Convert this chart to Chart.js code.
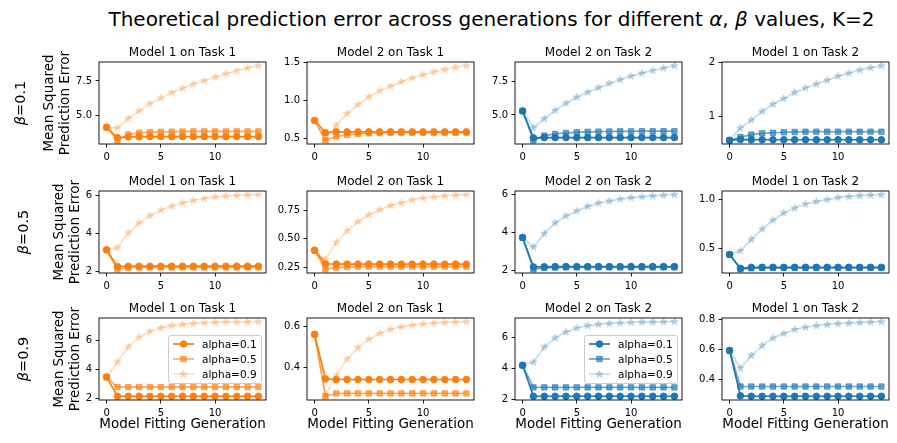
<!DOCTYPE html>
<html><head><meta charset="utf-8">
<script src="https://cdn.jsdelivr.net/npm/chart.js@4.4.1/dist/chart.umd.min.js"></script>
<style>
html,body{margin:0;padding:0;background:#fff;}
#fig{position:relative;width:897px;height:443px;overflow:hidden;font-family:'DejaVu Sans',sans-serif;color:#000;background:#fff;}
.abs{position:absolute;white-space:nowrap;}
canvas{position:absolute;}
.legend{position:absolute;background:rgba(255,255,255,0.8);border:1px solid #cccccc;border-radius:3px;padding:1px 4px 1px 4px;font-size:10.5px;white-space:nowrap;}
.legend .row{display:flex;align-items:center;height:15px;}
.legend svg{margin-right:8px;display:block;}
</style></head><body><div id="fig"></div>
<script>
// ---------------- DATA ----------------
const generations = [0,1,2,3,4,5,6,7,8,9,10,11,12,13,14];
const xTickLabels = ["0","5","10"];
const alphaLabels = ["alpha=0.1","alpha=0.5","alpha=0.9"];
const betaLabels = ["0.1","0.5","0.9"];
const panelTitles = ["Model 1 on Task 1","Model 2 on Task 1","Model 2 on Task 2","Model 1 on Task 2"];
const yAxisLabel = ["Mean Squared","Prediction Error"];
const xAxisLabel = "Model Fitting Generation";

// beta = 0.1
const b01_m1t1_a01 = [4.10,3.35,3.40,3.41,3.42,3.42,3.42,3.42,3.42,3.42,3.42,3.42,3.42,3.42,3.42];
const b01_m1t1_a05 = [4.10,3.15,3.58,3.70,3.75,3.77,3.78,3.79,3.80,3.80,3.80,3.80,3.80,3.80,3.80];
const b01_m1t1_a09 = [4.10,4.05,4.74,5.31,5.84,6.25,6.64,6.97,7.27,7.52,7.78,8.02,8.25,8.45,8.62];
const yTicks_b01_m1t1 = ["5.0","7.5"];

const b01_m2t1_a01 = [0.74,0.58,0.59,0.59,0.59,0.59,0.59,0.59,0.59,0.59,0.59,0.59,0.59,0.59,0.59];
const b01_m2t1_a05 = [0.74,0.48,0.53,0.55,0.565,0.572,0.577,0.58,0.58,0.58,0.58,0.58,0.58,0.58,0.58];
const b01_m2t1_a09 = [0.74,0.49,0.68,0.83,0.95,1.05,1.13,1.19,1.25,1.30,1.34,1.38,1.41,1.44,1.46];
const yTicks_b01_m2t1 = ["0.5","1.0","1.5"];

const b01_m2t2_a01 = [5.30,3.28,3.30,3.30,3.30,3.30,3.30,3.30,3.30,3.30,3.30,3.30,3.30,3.30,3.30];
const b01_m2t2_a05 = [5.30,3.10,3.45,3.58,3.65,3.70,3.73,3.75,3.76,3.77,3.77,3.78,3.78,3.78,3.78];
const b01_m2t2_a09 = [5.30,4.03,4.72,5.34,5.89,6.34,6.71,7.05,7.37,7.65,7.92,8.14,8.34,8.52,8.70];
const yTicks_b01_m2t2 = ["5.0","7.5"];

const b01_m1t2_a01 = [0.55,0.565,0.56,0.56,0.56,0.56,0.56,0.56,0.56,0.56,0.56,0.56,0.56,0.56,0.56];
const b01_m1t2_a05 = [0.55,0.61,0.655,0.68,0.69,0.70,0.705,0.71,0.71,0.71,0.71,0.71,0.71,0.71,0.71];
const b01_m1t2_a09 = [0.55,0.78,0.925,1.09,1.22,1.33,1.44,1.525,1.60,1.67,1.745,1.80,1.86,1.90,1.94];
const yTicks_b01_m1t2 = ["1","2"];

// beta = 0.5
const b05_m1t1_a01 = [3.14,2.26,2.28,2.28,2.28,2.28,2.28,2.28,2.28,2.28,2.28,2.28,2.28,2.28,2.28];
const b05_m1t1_a05 = [3.12,2.12,2.20,2.22,2.22,2.22,2.22,2.22,2.22,2.22,2.22,2.22,2.22,2.22,2.22];
const b05_m1t1_a09 = [3.14,3.25,4.02,4.54,4.93,5.21,5.42,5.60,5.72,5.82,5.90,5.95,5.98,6.00,6.02];
const yTicks_b05_m1t1 = ["2","4","6"];

const b05_m2t1_a01 = [0.40,0.282,0.28,0.28,0.28,0.28,0.28,0.28,0.28,0.28,0.28,0.28,0.28,0.28,0.28];
const b05_m2t1_a05 = [0.40,0.235,0.25,0.255,0.258,0.258,0.258,0.258,0.258,0.258,0.258,0.258,0.258,0.258,0.258];
const b05_m2t1_a09 = [0.40,0.32,0.47,0.57,0.65,0.71,0.755,0.79,0.815,0.84,0.855,0.865,0.875,0.88,0.885];
const yTicks_b05_m2t1 = ["0.25","0.50","0.75"];

const b05_m2t2_a01 = [3.74,2.20,2.21,2.22,2.22,2.22,2.22,2.22,2.22,2.22,2.22,2.22,2.22,2.22,2.22];
const b05_m2t2_a05 = [3.72,2.08,2.15,2.17,2.18,2.18,2.18,2.18,2.18,2.18,2.18,2.18,2.18,2.18,2.18];
const b05_m2t2_a09 = [3.74,3.23,3.95,4.50,4.86,5.12,5.36,5.53,5.64,5.74,5.81,5.86,5.91,5.94,5.97];
const yTicks_b05_m2t2 = ["2","4","6"];

const b05_m1t2_a01 = [0.44,0.30,0.31,0.31,0.31,0.31,0.31,0.31,0.31,0.31,0.31,0.31,0.31,0.31,0.31];
const b05_m1t2_a05 = [0.44,0.29,0.30,0.305,0.305,0.305,0.305,0.305,0.305,0.305,0.305,0.305,0.305,0.305,0.305];
const b05_m1t2_a09 = [0.44,0.477,0.595,0.70,0.79,0.864,0.914,0.955,0.98,1.00,1.02,1.03,1.04,1.045,1.05];
const yTicks_b05_m1t2 = ["0.5","1.0"];

// beta = 0.9
const b09_m1t1_a01 = [3.47,2.14,2.14,2.14,2.14,2.14,2.14,2.14,2.14,2.14,2.14,2.14,2.14,2.14,2.14];
const b09_m1t1_a05 = [3.47,2.78,2.78,2.78,2.78,2.78,2.78,2.78,2.78,2.78,2.78,2.78,2.78,2.78,2.78];
const b09_m1t1_a09 = [3.47,4.52,5.57,6.23,6.64,6.87,7.03,7.12,7.18,7.22,7.25,7.27,7.28,7.29,7.30];
const yTicks_b09_m1t1 = ["2","4","6"];

const b09_m2t1_a01 = [0.56,0.343,0.34,0.34,0.34,0.34,0.34,0.34,0.34,0.34,0.34,0.34,0.34,0.34,0.34];
const b09_m2t1_a05 = [0.56,0.258,0.272,0.272,0.272,0.272,0.272,0.272,0.272,0.272,0.272,0.272,0.272,0.272,0.272];
const b09_m2t1_a09 = [0.56,0.265,0.36,0.44,0.495,0.537,0.565,0.585,0.597,0.605,0.611,0.615,0.618,0.62,0.622];
const yTicks_b09_m2t1 = ["0.4","0.6"];

const b09_m2t2_a01 = [4.21,2.19,2.19,2.19,2.19,2.19,2.19,2.19,2.19,2.19,2.19,2.19,2.19,2.19,2.19];
const b09_m2t2_a05 = [4.21,2.77,2.77,2.77,2.77,2.77,2.77,2.77,2.77,2.77,2.77,2.77,2.77,2.77,2.77];
const b09_m2t2_a09 = [4.21,4.42,5.40,6.00,6.38,6.64,6.79,6.88,6.93,6.97,7.00,7.02,7.03,7.04,7.05];
const yTicks_b09_m2t2 = ["2","4","6"];

const b09_m1t2_a01 = [0.595,0.293,0.29,0.29,0.29,0.29,0.29,0.29,0.29,0.29,0.29,0.29,0.29,0.29,0.29];
const b09_m1t2_a05 = [0.595,0.355,0.355,0.355,0.355,0.355,0.355,0.355,0.355,0.355,0.355,0.355,0.355,0.355,0.355];
const b09_m1t2_a09 = [0.595,0.477,0.562,0.628,0.678,0.708,0.735,0.75,0.76,0.768,0.774,0.778,0.781,0.784,0.787];
const yTicks_b09_m1t2 = ["0.4","0.6","0.8"];

// ---------------- PANEL TABLE ----------------
const panels = [
  [
    {s:[b01_m1t1_a01,b01_m1t1_a05,b01_m1t1_a09], t:yTicks_b01_m1t1},
    {s:[b01_m2t1_a01,b01_m2t1_a05,b01_m2t1_a09], t:yTicks_b01_m2t1},
    {s:[b01_m2t2_a01,b01_m2t2_a05,b01_m2t2_a09], t:yTicks_b01_m2t2},
    {s:[b01_m1t2_a01,b01_m1t2_a05,b01_m1t2_a09], t:yTicks_b01_m1t2}
  ],
  [
    {s:[b05_m1t1_a01,b05_m1t1_a05,b05_m1t1_a09], t:yTicks_b05_m1t1},
    {s:[b05_m2t1_a01,b05_m2t1_a05,b05_m2t1_a09], t:yTicks_b05_m2t1},
    {s:[b05_m2t2_a01,b05_m2t2_a05,b05_m2t2_a09], t:yTicks_b05_m2t2},
    {s:[b05_m1t2_a01,b05_m1t2_a05,b05_m1t2_a09], t:yTicks_b05_m1t2}
  ],
  [
    {s:[b09_m1t1_a01,b09_m1t1_a05,b09_m1t1_a09], t:yTicks_b09_m1t1},
    {s:[b09_m2t1_a01,b09_m2t1_a05,b09_m2t1_a09], t:yTicks_b09_m2t1},
    {s:[b09_m2t2_a01,b09_m2t2_a05,b09_m2t2_a09], t:yTicks_b09_m2t2},
    {s:[b09_m1t2_a01,b09_m1t2_a05,b09_m1t2_a09], t:yTicks_b09_m1t2}
  ]
];

// ---------------- LAYOUT / STYLE ----------------
const colL = [99, 307, 515, 722];
const rowT = [62, 191, 318];
const PW = 167, PH = 82;
const YW = 40, PT = 12, PR = 8, XH = 22;
const colRGB = ['255,127,14','255,127,14','31,119,180','31,119,180'];
const opac = [1, 0.65, 0.25];
const ylabCX = [56, 66, 66];
const betaCX = [20, 23, 23];

Chart.defaults.font.family = "'DejaVu Sans', sans-serif";
Chart.defaults.font.size = 10;
Chart.defaults.color = '#000';

const fig = document.getElementById('fig');

function makeStar(color, R) {
  const c = document.createElement('canvas');
  const s = Math.ceil(R * 2 + 3);
  c.width = s; c.height = s;
  c.style.position = 'static';
  const g = c.getContext('2d');
  g.translate(s / 2, s / 2);
  g.beginPath();
  for (let i = 0; i < 10; i++) {
    const r = i % 2 === 0 ? R : R * 0.382;
    const a = -Math.PI / 2 + i * Math.PI / 5;
    g.lineTo(r * Math.cos(a), r * Math.sin(a));
  }
  g.closePath();
  g.fillStyle = color; g.fill();
  g.lineWidth = 1; g.strokeStyle = color; g.stroke();
  return c;
}

function starPoints(cx, cy, R) {
  const p = [];
  for (let i = 0; i < 10; i++) {
    const r = i % 2 === 0 ? R : R * 0.382;
    const a = -Math.PI / 2 + i * Math.PI / 5;
    p.push((cx + r * Math.cos(a)).toFixed(2) + ',' + (cy + r * Math.sin(a)).toFixed(2));
  }
  return p.join(' ');
}

const framePlugin = {
  id: 'frame',
  afterDatasetsDraw(chart) {
    const {ctx, chartArea: a} = chart;
    ctx.save();
    ctx.strokeStyle = '#000';
    ctx.lineWidth = 0.9;
    ctx.strokeRect(a.left, a.top, a.right - a.left, a.bottom - a.top);
    ctx.restore();
  }
};

function dataRange(series) {
  let mn = Infinity, mx = -Infinity;
  series.forEach(s => s.forEach(v => { mn = Math.min(mn, v); mx = Math.max(mx, v); }));
  const m = (mx - mn) * 0.05;
  return [mn - m, mx + m];
}
const xMin = generations[0] - (generations[generations.length-1] - generations[0]) * 0.05;
const xMax = generations[generations.length-1] + (generations[generations.length-1] - generations[0]) * 0.05;

function addDiv(html, css) {
  const d = document.createElement('div');
  d.className = 'abs';
  d.style.cssText = css;
  d.innerHTML = html;
  fig.appendChild(d);
  return d;
}

// suptitle
addDiv('Theoretical prediction error across generations for different <i>α</i>, <i>β</i> values, K=2',
  'left:491.5px;top:8.5px;transform:translateX(-50%);font-size:20px;line-height:20px;');

for (let r = 0; r < 3; r++) {
  for (let c = 0; c < 4; c++) {
    const P = panels[r][c];
    const L = colL[c], T = rowT[r];
    const cv = document.createElement('canvas');
    const cw = PW + YW + PR, ch = PH + PT + XH;
    cv.width = cw; cv.height = ch;
    cv.style.left = (L - YW) + 'px';
    cv.style.top = (T - PT) + 'px';
    cv.style.width = cw + 'px';
    cv.style.height = ch + 'px';
    fig.appendChild(cv);

    const rgb = colRGB[c];
    const styles = ['circle', 'rect', makeStar(`rgba(${rgb},${opac[2]})`, 3.8)];
    const radii = [3.3, 3.8, 3.8];
    const datasets = P.s.map((vals, k) => ({
      label: alphaLabels[k],
      data: generations.map((g, i) => ({x: g, y: vals[i]})),
      borderColor: `rgba(${rgb},${opac[k]})`,
      backgroundColor: `rgba(${rgb},${opac[k]})`,
      pointBackgroundColor: `rgba(${rgb},${opac[k]})`,
      pointBorderColor: `rgba(${rgb},${opac[k]})`,
      borderWidth: 1.7,
      pointRadius: radii[k],
      pointBorderWidth: 1,
      pointStyle: styles[k],
      tension: 0,
      fill: false,
      order: 2 - k
    }));
    const [yMin, yMax] = dataRange(P.s);
    const yTickVals = P.t.map(parseFloat);
    const gridOpts = {drawOnChartArea: false, drawTicks: true, tickLength: 3.5, tickWidth: 0.9, tickColor: '#000', color: '#000', lineWidth: 0.9};
    new Chart(cv, {
      type: 'line',
      data: {datasets},
      options: {
        responsive: false, animation: false, events: [],
        layout: {padding: {top: PT, right: PR, left: 0, bottom: 0}},
        plugins: {legend: {display: false}, tooltip: {enabled: false}, title: {display: false}},
        scales: {
          x: {
            type: 'linear', min: xMin, max: xMax, bounds: 'data',
            afterBuildTicks: s => { s.ticks = xTickLabels.map(v => ({value: parseFloat(v)})); },
            afterFit: s => { s.height = XH; },
            ticks: {padding: 3.5, maxRotation: 0, autoSkip: false, color: '#000', font: {size: 10},
              callback: v => { const i = xTickLabels.findIndex(t => parseFloat(t) === v); return i >= 0 ? xTickLabels[i] : ''; }},
            grid: gridOpts, border: {display: false}
          },
          y: {
            type: 'linear', min: yMin, max: yMax, bounds: 'data',
            afterBuildTicks: s => { s.ticks = yTickVals.map(v => ({value: v})); },
            afterFit: s => { s.width = YW; },
            ticks: {padding: 3.5, autoSkip: false, color: '#000', font: {size: 10},
              callback: v => { const i = yTickVals.findIndex(t => Math.abs(t - v) < 1e-9); return i >= 0 ? P.t[i] : ''; }},
            grid: gridOpts, border: {display: false}
          }
        }
      },
      plugins: [framePlugin]
    });

    // subplot title
    addDiv(panelTitles[c], `left:${L}px;width:${PW}px;text-align:center;top:${T - 16.2}px;font-size:12px;line-height:12px;`);

    // x label on bottom row
    if (r === 2) {
      addDiv(xAxisLabel, `left:${L}px;width:${PW}px;text-align:center;top:${T + PH + 16.5}px;font-size:13.5px;line-height:13.5px;`);
    }
    // y label + beta label on first col
    if (c === 0) {
      const cy = T + PH / 2;
      addDiv(yAxisLabel.join('<br>'), `left:${ylabCX[r]}px;top:${cy}px;transform:translate(-50%,-50%) rotate(-90deg);font-size:13.5px;line-height:16px;text-align:center;`);
      addDiv('<i>β</i>=' + betaLabels[r], `left:${betaCX[r]}px;top:${cy}px;transform:translate(-50%,-50%) rotate(-90deg);font-size:14.5px;line-height:15px;`);
    }
    // legend on bottom row, cols 0 and 2
    if (r === 2 && (c === 0 || c === 2)) {
      const lg = document.createElement('div');
      lg.className = 'legend';
      let html = '';
      for (let k = 0; k < 3; k++) {
        const col = `rgba(${rgb},${opac[k]})`;
        let m;
        if (k === 0) m = `<circle cx="10.5" cy="5" r="3.3" fill="${col}" stroke="${col}" stroke-width="1"/>`;
        else if (k === 1) m = `<rect x="7.8" y="2.3" width="5.4" height="5.4" fill="${col}" stroke="${col}" stroke-width="1"/>`;
        else m = `<polygon points="${starPoints(10.5, 5.3, 3.8)}" fill="${col}" stroke="${col}" stroke-width="1"/>`;
        html += `<div class="row"><svg width="21" height="10"><line x1="0" y1="5" x2="21" y2="5" stroke="${col}" stroke-width="1.7"/>${m}</svg><span>${alphaLabels[k]}</span></div>`;
      }
      lg.innerHTML = html;
      fig.appendChild(lg);
      lg.style.left = (L + PW - 4 - lg.offsetWidth) + 'px';
      lg.style.top = (T + PH / 2 - lg.offsetHeight / 2) + 'px';
    }
  }
}
</script></body></html>
